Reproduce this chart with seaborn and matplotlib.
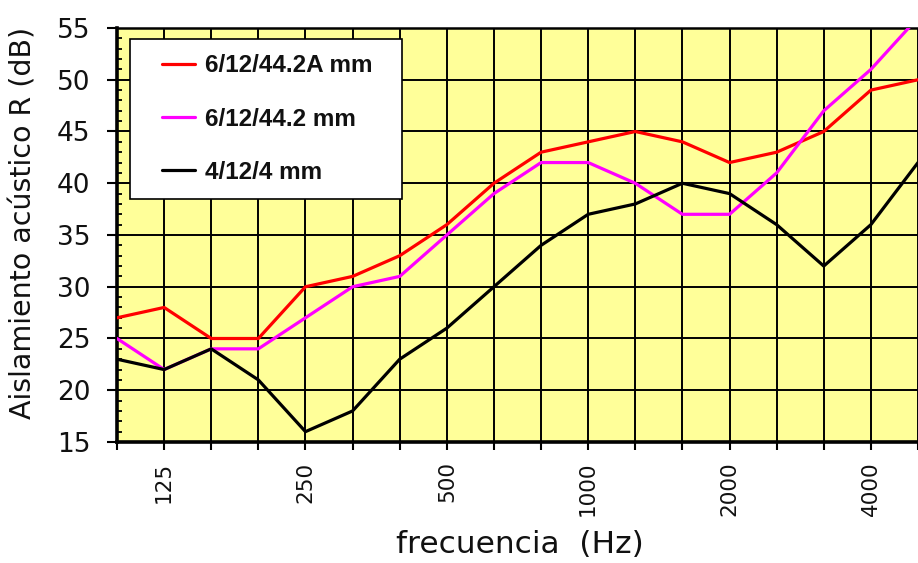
import matplotlib
matplotlib.use("Agg")
import matplotlib.pyplot as plt
from matplotlib.patches import Rectangle
from matplotlib.ticker import MultipleLocator
import numpy as np
import pandas as pd
import seaborn as sns

# Third-octave band centre frequencies (Hz)
freqs = ["100", "125", "160", "200", "250", "315", "400", "500", "630",
         "800", "1000", "1250", "1600", "2000", "2500", "3150", "4000", "5000"]
labelled_freqs = ["125", "250", "500", "1000", "2000", "4000"]

# Sound reduction index R (dB) per glazing build-up
r_6_12_442a = [27, 28, 25, 25, 30, 31, 33, 36, 40, 43, 44, 45, 44, 42, 43, 45, 49, 50]
r_6_12_442 = [25, 22, 24, 24, 27, 30, 31, 35, 39, 42, 42, 40, 37, 37, 41, 47, 51, 56]
r_4_12_4 = [23, 22, 24, 21, 16, 18, 23, 26, 30, 34, 37, 38, 40, 39, 36, 32, 36, 42]

series_names = ["6/12/44.2A mm", "6/12/44.2 mm", "4/12/4 mm"]
series_colors = ["#ff0000", "#ff00ff", "#000000"]

band_pos = np.arange(len(freqs))
df = pd.DataFrame({
    "banda": np.tile(band_pos, len(series_names)),
    "R": r_6_12_442a + r_6_12_442 + r_4_12_4,
    "vidrio": np.repeat(series_names, len(freqs)),
})

sns.set_style("white")
plt.rcParams["font.family"] = ["DejaVu Sans"]
text_color = "#111111"

fig = plt.figure(figsize=(9.18, 5.63), dpi=100)
ax = fig.add_axes([117 / 918, 1 - 442 / 563, 801 / 918, 414 / 563])
ax.set_facecolor("#ffff99")

sns.lineplot(data=df, x="banda", y="R", hue="vidrio", hue_order=series_names,
             palette=series_colors, estimator=None, linewidth=2.3,
             legend=False, ax=ax, zorder=3)

ax.set_xlim(0, 16.8)
ax.set_ylim(15, 55)

# x axis: one tick per band, labels on octave centres only
ax.set_xticks(band_pos)
ax.set_xticklabels([f if f in labelled_freqs else "" for f in freqs],
                   rotation=90, fontsize=15.5, color=text_color)
ax.yaxis.set_major_locator(MultipleLocator(5))
ax.yaxis.set_minor_locator(MultipleLocator(1))

ax.tick_params(axis="x", which="major", direction="out", length=6, width=1.5,
               pad=8, bottom=True, top=False, labelsize=15.5, colors="black",
               labelcolor=text_color)
ax.tick_params(axis="y", which="major", direction="out", length=7, width=1.5,
               pad=12, left=True, right=False, labelsize=19, colors="black",
               labelcolor=text_color)
ax.tick_params(axis="y", which="minor", direction="in", length=3.5, width=1.3,
               left=True, right=False, colors="black")

ax.set_axisbelow(True)
ax.grid(True, which="major", color="black", linewidth=1.4)

for side, lw in (("left", 2.6), ("bottom", 2.6), ("top", 1.8)):
    ax.spines[side].set_visible(True)
    ax.spines[side].set_color("black")
    ax.spines[side].set_linewidth(lw)
ax.spines["right"].set_visible(False)

ax.set_xlabel("frecuencia  (Hz)", fontsize=22.5, color=text_color)
ax.set_ylabel("Aislamiento acústico R (dB)", fontsize=20.5, color=text_color)
ax.xaxis.set_label_coords(0.503, -0.2126)
ax.yaxis.set_label_coords(-0.099, 0.53)

# Legend panel
ax.add_patch(Rectangle((13 / 801, 243 / 414), 272 / 801, 160 / 414,
                       transform=ax.transAxes, facecolor="white",
                       edgecolor="black", linewidth=1.2, zorder=4))
leg = ax.legend(ax.get_lines()[:3], series_names, frameon=False,
                loc="center left", bbox_to_anchor=(45 / 801, 323 / 414),
                borderpad=0, borderaxespad=0, handlelength=1.36,
                handletextpad=0.41, labelspacing=1.25,
                prop={"family": "Liberation Sans", "weight": "bold", "size": 17.5})
leg.set_zorder(5)
for t in leg.get_texts():
    t.set_color(text_color)

fig.savefig("out.png", dpi=100)
